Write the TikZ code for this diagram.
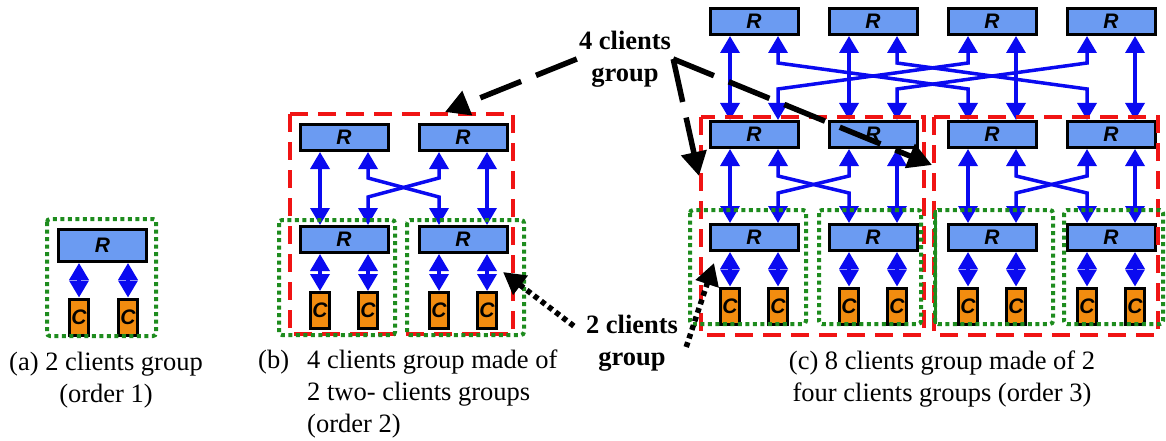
\documentclass[tikz,border=0pt]{standalone}
\usepackage{fontspec}
\setmainfont{Liberation Serif}
\setsansfont{Liberation Sans}
\usetikzlibrary{arrows.meta, calc}
\definecolor{rtrFill}{HTML}{6B9BF2}
\definecolor{cliFill}{HTML}{F28C0F}
\definecolor{linkBlue}{HTML}{0A0AF0}
\definecolor{grpRed}{HTML}{F01414}
\definecolor{grpGreen}{HTML}{1E8C1E}

\begin{document}
\begin{tikzpicture}[x=1pt, y=-1pt,
  rbox/.style={draw=black, line width=3pt, fill=rtrFill, minimum width=88pt,
              minimum height=26pt, inner sep=0pt,
              font=\sffamily\bfseries\itshape\fontsize{21}{21}\selectfont},
  cbox/.style={draw=black, line width=3pt, fill=cliFill, minimum width=19pt,
              minimum height=36pt, inner sep=0pt,
              font=\sffamily\bfseries\itshape\fontsize{21}{21}\selectfont},
  link/.style={{Triangle[length=17pt, width=19pt]}-{Triangle[length=17pt, width=19pt]},
              draw=linkBlue, line width=3.5pt},
  grp2/.style={draw=grpGreen, line width=4pt, dash pattern=on 4pt off 3.5pt,
              rounded corners=3pt},
  grp4/.style={draw=grpRed, line width=4pt, dash pattern=on 18pt off 10pt},
  ptr/.style={draw=black, line width=5.5pt, dash pattern=on 44pt off 16pt,
              -{Triangle[length=24pt, width=25pt]}},
  dotptr/.style={draw=black, line width=5.5pt, dash pattern=on 5pt off 4pt,
              -{Triangle[length=22pt, width=23pt]}},
  capt/.style={font=\fontsize{26.5}{32}\selectfont, inner sep=0pt},
  callout/.style={font=\bfseries\fontsize{26.5}{32}\selectfont, align=center, inner sep=2pt},
]
\useasboundingbox (0,0) rectangle (1166,441);

% --- (a) order 1 ---
\node[rbox, minimum height=32pt] (aR) at (102.5,245.5) {R};
\node[cbox] (aC1) at (79,317) {C};
\node[cbox] (aC2) at (128,317) {C};
\draw[link] (aC1.north) -- (aC1.north |- aR.south);
\draw[link] (aC2.north) -- (aC2.north |- aR.south);
\draw[grp2] (47,219) rectangle (156,336);

% --- (b) order 2 ---
\node[rbox] (bT1) at (344,137.5) {R};
\node[rbox] (bT2) at (463,137.5) {R};
\node[rbox] (bM1) at (344,239.5) {R};
\node[rbox] (bM2) at (463,239.5) {R};
\node[cbox] (bC1) at (320,310.5) {C}; \node[cbox] (bC2) at (368,310.5) {C};
\node[cbox] (bC3) at (439,310.5) {C}; \node[cbox] (bC4) at (487,310.5) {C};

\draw[link] (bC1.north) -- (bC1.north |- bM1.south);
\draw[link] (bC2.north) -- (bC2.north |- bM1.south);
\draw[link] (bC3.north) -- (bC3.north |- bM2.south);
\draw[link] (bC4.north) -- (bC4.north |- bM2.south);

\draw[link] (bC1 |- bT1.south) -- (bC1 |- bM1.north);
\draw[link] (bC4 |- bT2.south) -- (bC4 |- bM2.north);
\draw[link] (bC2 |- bT1.south) -- ++(0,26) -- ($(bC3 |- bM2.north)+(0,-28)$) -- (bC3 |- bM2.north);
\draw[link] (bC3 |- bT2.south) -- ++(0,26) -- ($(bC2 |- bM1.north)+(0,-28)$) -- (bC2 |- bM1.north);

\draw[grp4] (290,114) rectangle (513,334);
\draw[grp2] (279,220) rectangle (395,335);
\draw[grp2] (407,220) rectangle (524,335);

% --- (c) order 3 ---
\node[rbox] (cT1) at (754,21.5) {R};  \node[rbox] (cT2) at (873,21.5) {R};
\node[rbox] (cT3) at (992,21.5) {R};  \node[rbox] (cT4) at (1111,21.5) {R};
\node[rbox] (cM1) at (754,134.5) {R}; \node[rbox] (cM2) at (873,134.5) {R};
\node[rbox] (cM3) at (992,134.5) {R}; \node[rbox] (cM4) at (1111,134.5) {R};
\node[rbox] (cB1) at (754,237.5) {R}; \node[rbox] (cB2) at (873,237.5) {R};
\node[rbox] (cB3) at (992,237.5) {R}; \node[rbox] (cB4) at (1111,237.5) {R};
\node[cbox] (cC1) at (730,306) {C};  \node[cbox] (cC2) at (778,306) {C};
\node[cbox] (cC3) at (849,306) {C};  \node[cbox] (cC4) at (897,306) {C};
\node[cbox] (cC5) at (968,306) {C};  \node[cbox] (cC6) at (1016,306) {C};
\node[cbox] (cC7) at (1087,306) {C}; \node[cbox] (cC8) at (1135,306) {C};

% clients to their router
\draw[link] (cC1.north) -- (cC1.north |- cB1.south);
\draw[link] (cC2.north) -- (cC2.north |- cB1.south);
\draw[link] (cC3.north) -- (cC3.north |- cB2.south);
\draw[link] (cC4.north) -- (cC4.north |- cB2.south);
\draw[link] (cC5.north) -- (cC5.north |- cB3.south);
\draw[link] (cC6.north) -- (cC6.north |- cB3.south);
\draw[link] (cC7.north) -- (cC7.north |- cB4.south);
\draw[link] (cC8.north) -- (cC8.north |- cB4.south);

% bottom row <-> middle row (inside each four clients group)
\draw[link] (cC1 |- cM1.south) -- (cC1 |- cB1.north);
\draw[link] (cC4 |- cM2.south) -- (cC4 |- cB2.north);
\draw[link] (cC5 |- cM3.south) -- (cC5 |- cB3.north);
\draw[link] (cC8 |- cM4.south) -- (cC8 |- cB4.north);
\draw[link] (cC2 |- cM1.south) -- ++(0,27) -- ($(cC3 |- cB2.north)+(0,-30)$) -- (cC3 |- cB2.north);
\draw[link] (cC3 |- cM2.south) -- ++(0,27) -- ($(cC2 |- cB1.north)+(0,-30)$) -- (cC2 |- cB1.north);
\draw[link] (cC6 |- cM3.south) -- ++(0,27) -- ($(cC7 |- cB4.north)+(0,-30)$) -- (cC7 |- cB4.north);
\draw[link] (cC7 |- cM4.south) -- ++(0,27) -- ($(cC6 |- cB3.north)+(0,-30)$) -- (cC6 |- cB3.north);

% middle row <-> top row
\draw[link] (cC1 |- cT1.south) -- (cC1 |- cM1.north);
\draw[link] (cC3 |- cT2.south) -- (cC3 |- cM2.north);
\draw[link] (cC6 |- cT3.south) -- (cC6 |- cM3.north);
\draw[link] (cC8 |- cT4.south) -- (cC8 |- cM4.north);
\draw[link] (cC2 |- cT1.south) -- ++(0,27) -- ($(cC5 |- cM3.north)+(0,-31)$) -- (cC5 |- cM3.north);
\draw[link] (cC4 |- cT2.south) -- ++(0,27) -- ($(cC7 |- cM4.north)+(0,-31)$) -- (cC7 |- cM4.north);
\draw[link] (cC5 |- cT3.south) -- ++(0,27) -- ($(cC2 |- cM1.north)+(0,-31)$) -- (cC2 |- cM1.north);
\draw[link] (cC7 |- cT4.south) -- ++(0,27) -- ($(cC4 |- cM2.north)+(0,-31)$) -- (cC4 |- cM2.north);

\draw[grp4] (701,117) rectangle (924,335);
\draw[grp4] (934,117) rectangle (1158,335);
\draw[grp2] (690,210) rectangle (806,324);
\draw[grp2] (819,210) rectangle (921,324);
\draw[grp2] (935,210) rectangle (1053,324);
\draw[grp2] (1064,210) rectangle (1163,324);
\draw[draw=grpGreen, line width=3pt] (935,210) -- (935,324);

% --- callouts ---
\node[callout] (lbl4) at (625,59) {4 clients\\group};
\node[callout] (lbl2) at (632,343) {2 clients\\group};
\coordinate (tip4b) at (445,112);
\coordinate (tip4c) at (699,176);
\coordinate (tip4d) at (932,165);
\coordinate (tip2b) at (503,272);
\coordinate (tip2c) at (714,263);
\draw[ptr] (lbl4.west) -- (tip4b);
\draw[ptr] (lbl4.east) -- (tip4c);
\draw[ptr] (lbl4.east) -- (tip4d);
\draw[dotptr] ($(lbl2.west)+(-10,-17)$) -- (tip2b);
\draw[dotptr] ($(lbl2.east)+(6,4)$) -- (tip2c);

% --- captions ---
\node[capt, align=center] (capA) at (106,380) {(a) 2 clients group\\(order 1)};
\node[capt, align=left, anchor=west] (capB) at (258,394)
  {\makebox[49pt][l]{(b)}4 clients group made of\\\hspace*{49pt}2 two- clients groups\\\hspace*{49pt}(order 2)};
\node[capt, align=center] (capC) at (942,379) {(c) 8 clients group made of 2\\four clients groups (order 3)};
\end{tikzpicture}
\end{document}
